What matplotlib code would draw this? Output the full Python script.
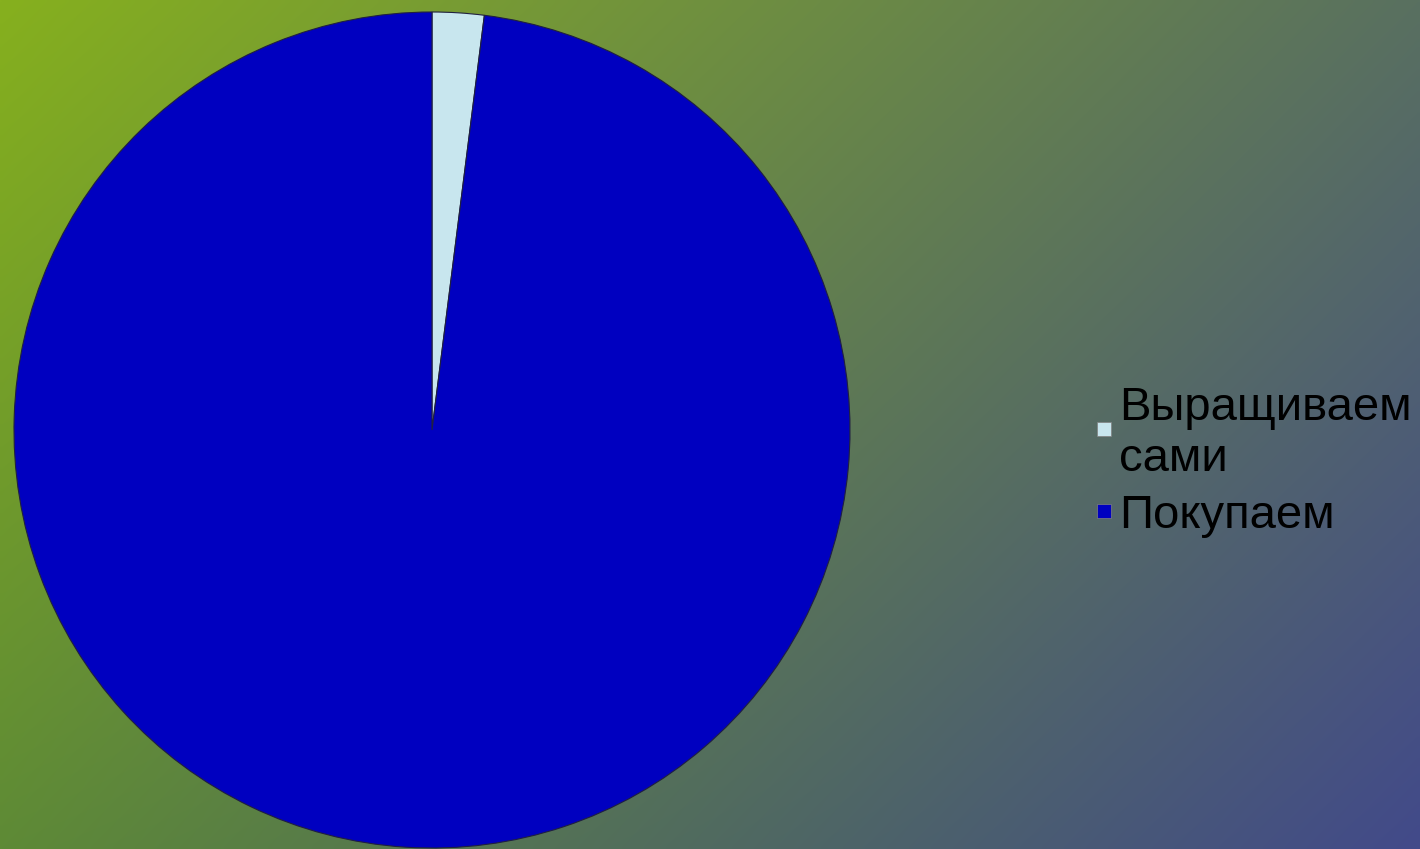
import numpy as np
import matplotlib.pyplot as plt
from matplotlib.patches import Rectangle

labels = ['Выращиваем\nсами', 'Покупаем']
values = [2, 98]
colors = ['#c8e6ee', '#0000c0']

W, H = 1420, 849
fig = plt.figure(figsize=(W / 100, H / 100), dpi=100)

# background gradient (bilinear between corner colours)
tl = np.array([0x86, 0xb0, 0x1e]) / 255
tr = np.array([0x59, 0x70, 0x60]) / 255
bl = np.array([0x5e, 0x8a, 0x36]) / 255
br = np.array([0x42, 0x4a, 0x8a]) / 255
u = np.linspace(0, 1, 300)[None, :, None]
v = np.linspace(0, 1, 200)[:, None, None]
grad = (1 - v) * ((1 - u) * tl + u * tr) + v * ((1 - u) * bl + u * br)
bg = fig.add_axes([0, 0, 1, 1])
bg.imshow(grad, aspect='auto', extent=[0, 1, 0, 1], interpolation='bilinear')
bg.axis('off')

# pie
cx, cy, r = 432, 419, 418
ax = fig.add_axes([(cx - r) / W, (cy - r) / H, 2 * r / W, 2 * r / H])
ax.pie(values, colors=colors, startangle=90, counterclock=False,
       wedgeprops=dict(edgecolor='#202040', linewidth=0.8))
ax.set_xlim(-1, 1)
ax.set_ylim(-1, 1)
ax.axis('off')

# legend (baseline of the last line of each label)
baselines = [471, 528]
centers = [429, 511]
for lab, col, yb, yc in zip(labels, colors, baselines, centers):
    fig.text(1119 / W, 1 - yb / H, lab, fontsize=34, family='Liberation Sans',
             va='baseline', ha='left', color='black', linespacing=1.22)
    fig.add_artist(Rectangle((1097 / W, 1 - (yc + 7) / H), 14 / W, 14 / H,
                             transform=fig.transFigure, facecolor=col,
                             edgecolor='#808080', linewidth=0.5))

fig.savefig('out.png', dpi=100)
